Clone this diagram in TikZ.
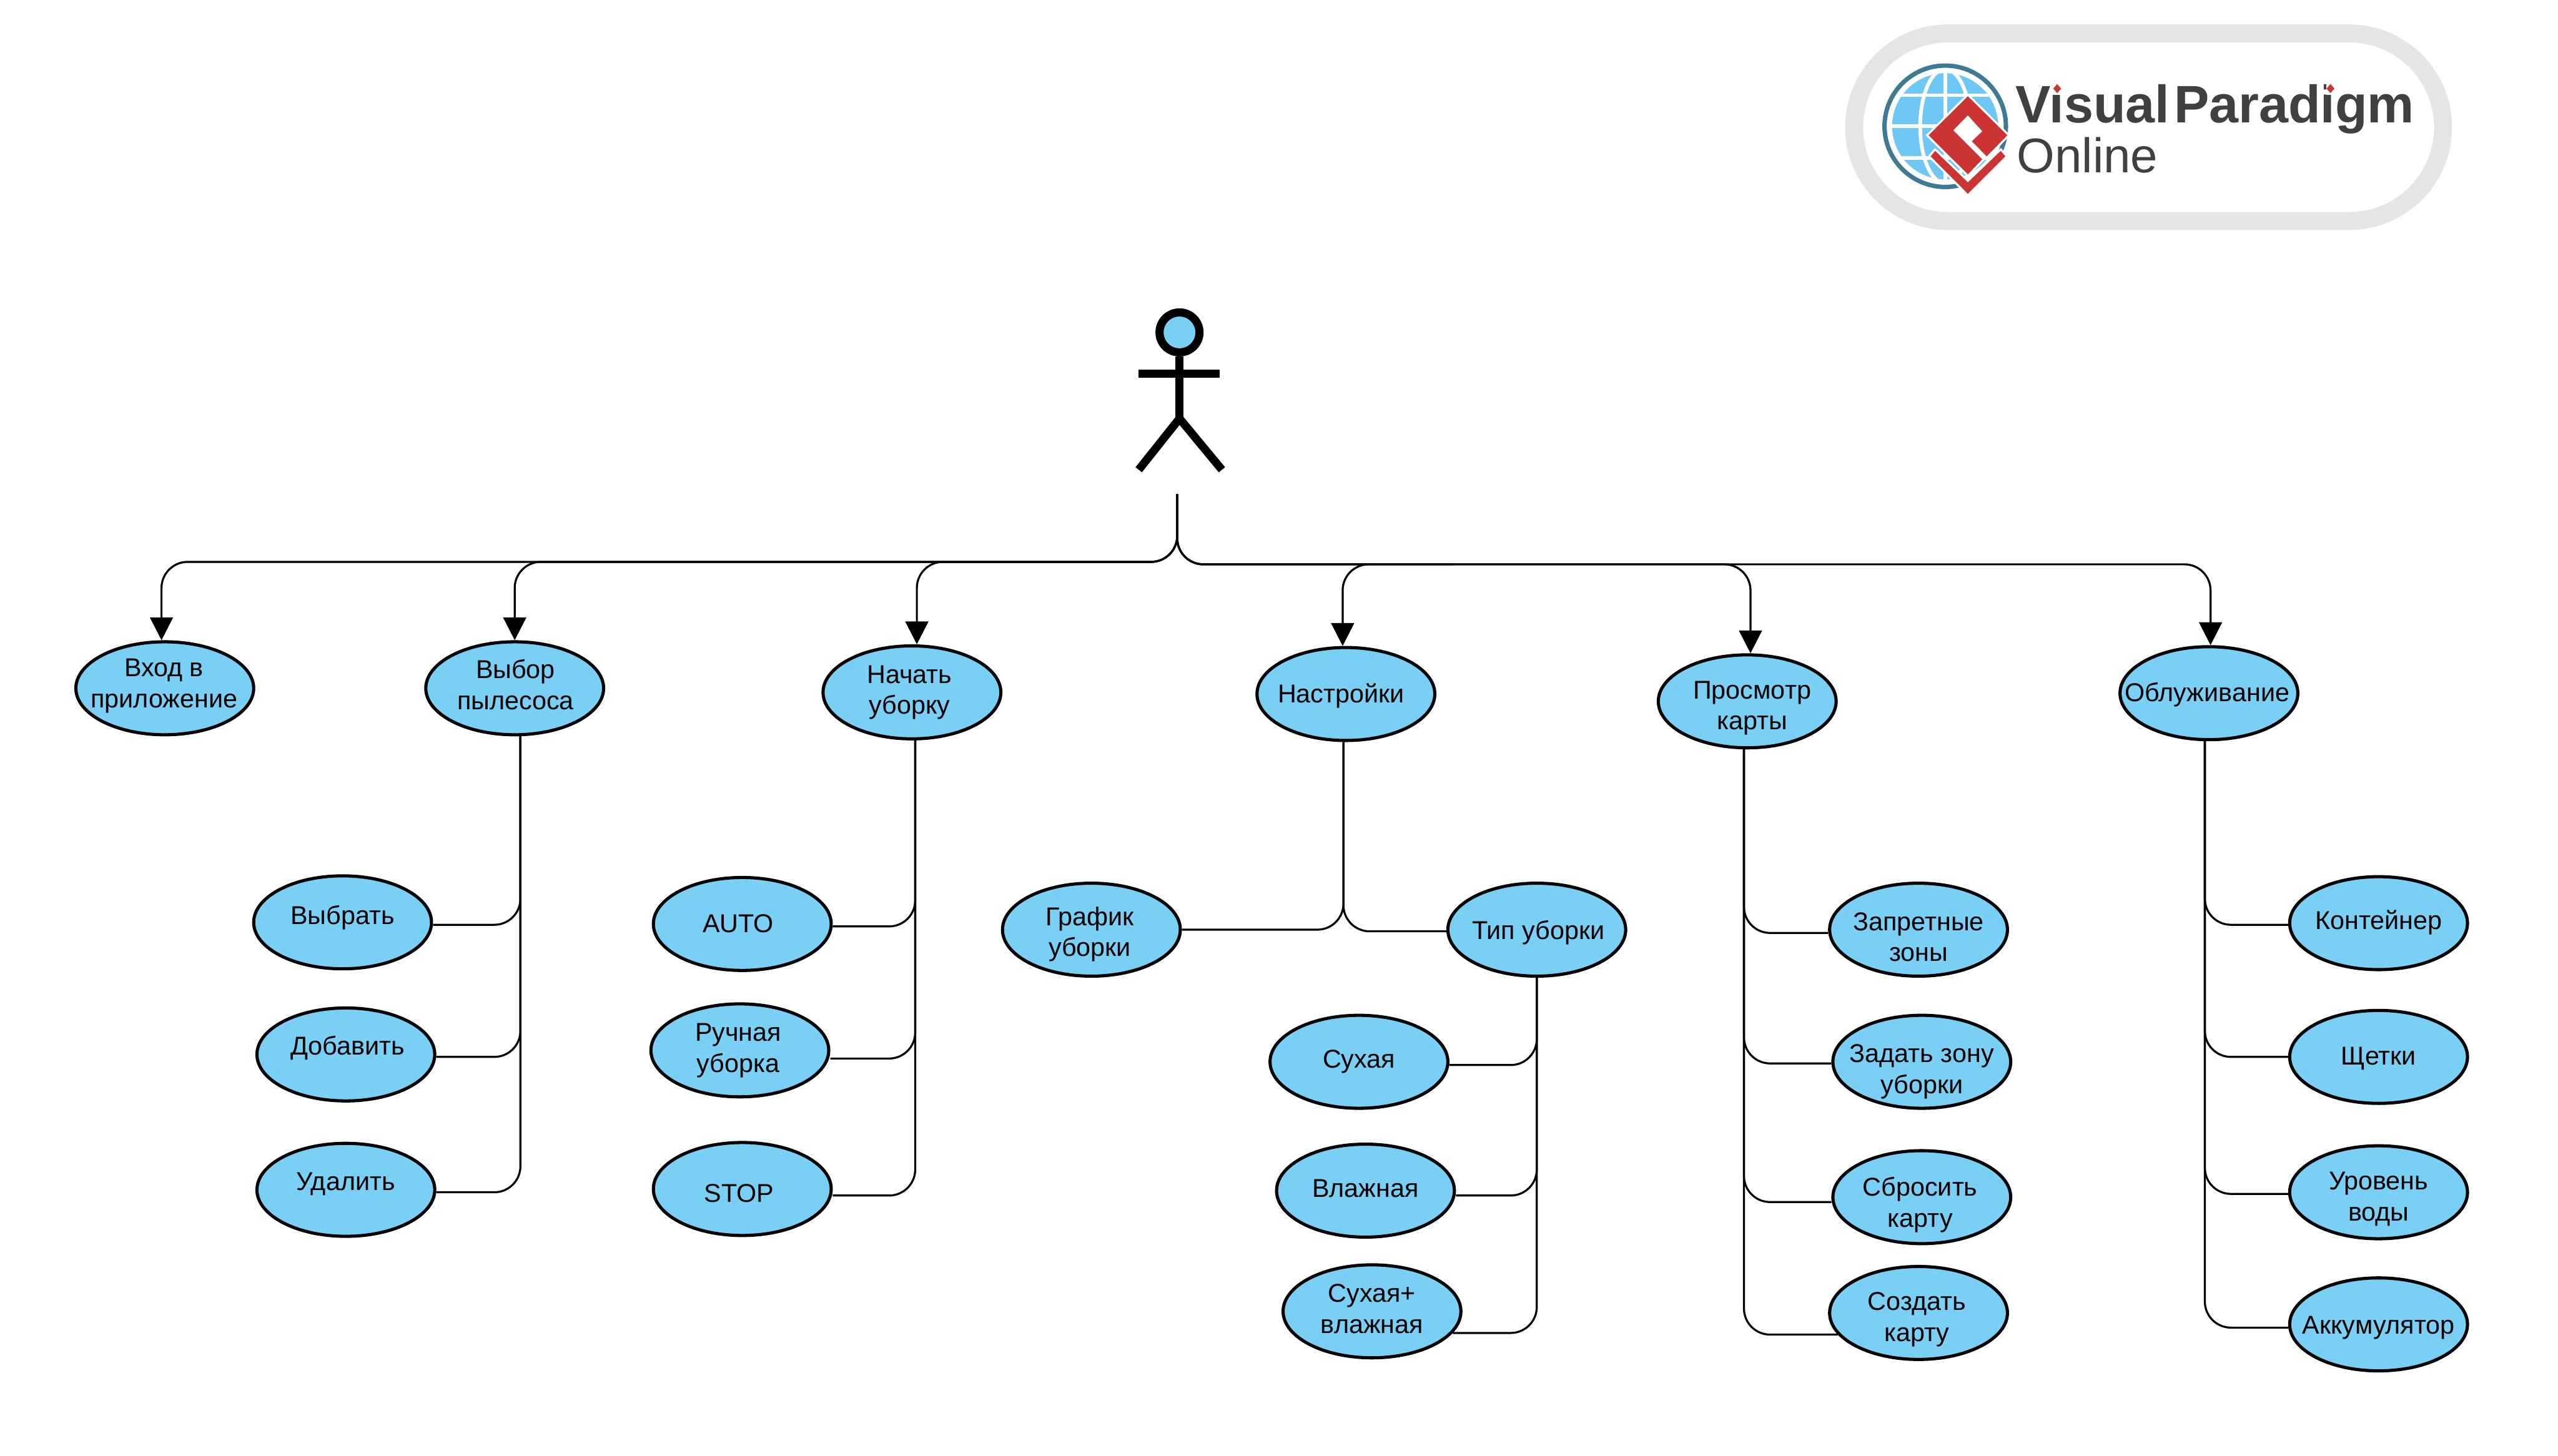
\documentclass[tikz,border=0pt]{standalone}
\usepackage{fontspec}
\setmainfont{Liberation Sans}
\usetikzlibrary{arrows.meta,shapes.geometric}
\definecolor{caseblue}{RGB}{122,207,245}
\definecolor{logoblue}{RGB}{110,200,243}
\definecolor{logoteal}{RGB}{62,122,146}
\definecolor{logored}{RGB}{204,51,51}
\definecolor{logogray}{RGB}{64,64,64}
\definecolor{ringgray}{RGB}{229,229,229}
\newcommand{\casetext}[3]{\raisebox{\dimexpr#2-3.45pt\relax}[0pt][0pt]{\makebox[0pt]{\hspace*{#1}\hspace*{#1}\begin{tabular}{@{}c@{}}#3\end{tabular}}}}
\tikzset{
  usecase/.style={ellipse,draw=black,fill=caseblue,line width=1.1pt,inner sep=0pt,minimum width=2.18cm,minimum height=1.14cm,font=\fontsize{9}{10.8}\selectfont},
  link/.style={draw=black,line width=0.7pt,rounded corners=0.32cm},
  linktip/.style={link,-{Triangle[length=2.8mm,width=2.8mm]}},
  stick/.style={draw=black,line width=0.1cm},
  redpart/.style={fill=logored,preaction={draw=white,line width=0.05cm}}
}
\begin{document}
\begin{tikzpicture}[x=2cm,y=2cm,line join=miter]
\useasboundingbox (0,-8.924) rectangle (15.68,0);
% logo
\draw[ringgray,line width=0.22cm,rounded corners=1.15cm] (11.365,-0.205) rectangle (14.975,-1.355);
\begin{scope}[shift={(11.5,-0.332)},x=0.002458cm,y=-0.002458cm]
\draw[logoteal,line width=0.054cm] (345,360) circle (303);
\begin{scope}
\clip (345,360) circle (265);
\fill[logoblue] (345,360) circle (265);
\draw[white,line width=0.045cm] (0,205) -- (700,205) (0,360) -- (700,360) (0,518) -- (700,518) (345,0) -- (345,700);
\draw[white,line width=0.045cm] (345,360) ellipse (125 and 285);
\end{scope}
\fill[white] (458,210) -- (655,405) -- (458,600) -- (262,405) -- cycle;
\path[redpart] (458,210) -- (655,405) -- (552,510) -- (478,435) -- (530,385) -- (458,305) -- (385,380) -- (530,525) -- (458,600) -- (262,405) -- cycle;
\path[redpart] (295,483) -- (458,640) -- (622,483) -- (645,510) -- (458,697) -- (272,510) -- cycle;
\end{scope}
\node[anchor=base west,inner sep=0pt,text=logogray,font=\fontsize{18.4}{20}\selectfont\bfseries] (vpname) at (12.35,-0.752) {\spaceskip=.08em\relax Visual Paradigm};
\node[anchor=base west,inner sep=0pt,text=logogray,font=\fontsize{17}{20}\selectfont] (vponline) at (12.36,-1.057) {Online};
\fill[white] (12.583,-0.50) rectangle (12.637,-0.58);
\fill[white] (14.258,-0.50) rectangle (14.312,-0.58);
\fill[logored] (12.61,-0.515) -- (12.634,-0.543) -- (12.61,-0.571) -- (12.586,-0.543) -- cycle;
\fill[logored] (14.285,-0.515) -- (14.309,-0.543) -- (14.285,-0.571) -- (14.261,-0.543) -- cycle;
% actor
\node[circle,stick,fill=caseblue,inner sep=0pt,minimum size=0.49cm] (head) at (7.23,-2.038) {};
\coordinate (hip) at (7.23,-2.566);
\coordinate (footl) at (6.98,-2.88);
\coordinate (footr) at (7.49,-2.88);
\coordinate (arml) at (6.98,-2.292);
\coordinate (armr) at (7.476,-2.292);
\draw[stick] (head.south) -- (hip);
\draw[stick] (arml) -- (armr);
\draw[stick] (footl) -- (hip) -- (footr);
% top row
\node[usecase] (vhod) at (1.01,-4.22) {\casetext{-0.01cm}{0.07cm}{Вход в\\приложение}};
\node[usecase] (vybor) at (3.155,-4.22) {\casetext{0.01cm}{0.05cm}{Выбор\\пылесоса}};
\node[usecase] (nachat) at (5.59,-4.245) {\casetext{-0.03cm}{0.04cm}{Начать\\уборку}};
\node[usecase] (nastr) at (8.25,-4.255) {\casetext{-0.06cm}{0.01cm}{Настройки}};
\node[usecase] (prosm) at (10.71,-4.30) {\casetext{0.06cm}{-0.04cm}{Просмотр\\карты}};
\node[usecase] (obsl) at (13.54,-4.25) {\casetext{-0.02cm}{0.02cm}{Облуживание}};
% children
\node[usecase] (vybrat) at (2.10,-5.655) {\casetext{0cm}{0.09cm}{Выбрать}};
\node[usecase] (dobav) at (2.12,-6.465) {\casetext{0.02cm}{0.11cm}{Добавить}};
\node[usecase] (udal) at (2.12,-7.295) {\casetext{0cm}{0.11cm}{Удалить}};
\node[usecase] (auto) at (4.55,-5.665) {\casetext{-0.05cm}{0.01cm}{AUTO}};
\node[usecase] (ruchn) at (4.535,-6.44) {\casetext{-0.02cm}{0.04cm}{Ручная\\уборка}};
\node[usecase] (stopc) at (4.55,-7.29) {\casetext{-0.04cm}{-0.04cm}{STOP}};
\node[usecase] (graf) at (6.69,-5.70) {\casetext{-0.02cm}{-0.02cm}{График\\уборки}};
\node[usecase] (tipu) at (9.42,-5.70) {\casetext{0.02cm}{0cm}{Тип уборки}};
\node[usecase] (sukh) at (8.33,-6.51) {\casetext{0cm}{0.04cm}{Сухая}};
\node[usecase] (vlazh) at (8.37,-7.30) {\casetext{0cm}{0.04cm}{Влажная}};
\node[usecase] (smesh) at (8.41,-8.04) {\casetext{0cm}{0.04cm}{Сухая+\\влажная}};
\node[usecase] (zapret) at (11.76,-5.70) {\casetext{0cm}{-0.08cm}{Запретные\\зоны}};
\node[usecase] (zadat) at (11.78,-6.51) {\casetext{0cm}{-0.08cm}{Задать зону\\уборки}};
\node[usecase] (sbros) at (11.78,-7.34) {\casetext{-0.02cm}{-0.06cm}{Сбросить\\карту}};
\node[usecase] (sozd) at (11.76,-8.05) {\casetext{-0.02cm}{-0.04cm}{Создать\\карту}};
\node[usecase] (kont) at (14.58,-5.66) {\casetext{0cm}{0.04cm}{Контейнер}};
\node[usecase] (shchet) at (14.58,-6.48) {\casetext{0cm}{0.02cm}{Щетки}};
\node[usecase] (urov) at (14.58,-7.31) {\casetext{0cm}{-0.04cm}{Уровень\\воды}};
\node[usecase] (akkum) at (14.58,-8.12) {\casetext{0cm}{0cm}{Аккумулятор}};
% bus from the actor
\coordinate (root) at (7.216,-3.03);
\coordinate (busl) at (6.5,-3.445);
\coordinate (busr) at (9,-3.46);
\draw[linktip] (root) |- (busl) -| ([xshift=-0.04cm]vhod.north);
\draw[linktip] (root) |- (busl) -| (vybor.north);
\draw[linktip] (root) |- (busl) -| ([xshift=0.06cm]nachat.north);
\draw[linktip] (root) |- (busr) -| ([xshift=-0.04cm]nastr.north);
\draw[linktip] (root) |- (busr) -| ([xshift=0.04cm]prosm.north);
\draw[linktip] (root) |- (busr) -| ([xshift=0.02cm]obsl.north);
% trunks
\coordinate (vyborT) at ([xshift=0.07cm]vybor.south);
\coordinate (nachatT) at ([xshift=0.04cm]nachat.south);
\coordinate (nastrT) at ([xshift=-0.03cm]nastr.south);
\coordinate (prosmT) at ([xshift=-0.04cm]prosm.south);
\coordinate (obslT) at ([xshift=-0.05cm]obsl.south);
\draw[link] ([yshift=-0.03cm]vybrat.east) -| (vyborT);
\draw[link] ([yshift=-0.03cm]dobav.east) -| (vyborT);
\draw[link] ([yshift=-0.03cm]udal.east) -| (vyborT);
\draw[link] ([yshift=-0.03cm]auto.east) -| (nachatT);
\draw[link] ([yshift=-0.10cm]ruchn.east) -| (nachatT);
\draw[link] ([yshift=-0.08cm]stopc.east) -| (nachatT);
\draw[link] (graf.east) -| (nastrT);
\draw[link] ([yshift=-0.02cm]tipu.west) -| (nastrT);
\draw[link] ([yshift=-0.04cm]sukh.east) -| (tipu.south);
\draw[link] ([yshift=-0.06cm]vlazh.east) -| (tipu.south);
\draw[link] (smesh.-15) -| (tipu.south);
\draw[link] ([yshift=-0.04cm]zapret.west) -| (prosmT);
\draw[link] ([yshift=-0.02cm]zadat.west) -| (prosmT);
\draw[link] ([yshift=-0.06cm]sbros.west) -| (prosmT);
\draw[link] (sozd.195) -| (prosmT);
\draw[link] ([yshift=-0.02cm]kont.west) -| (obslT);
\draw[link] (shchet.west) -| (obslT);
\draw[link] ([yshift=-0.02cm]urov.west) -| (obslT);
\draw[link] ([yshift=-0.04cm]akkum.west) -| (obslT);
\end{tikzpicture}
\end{document}
